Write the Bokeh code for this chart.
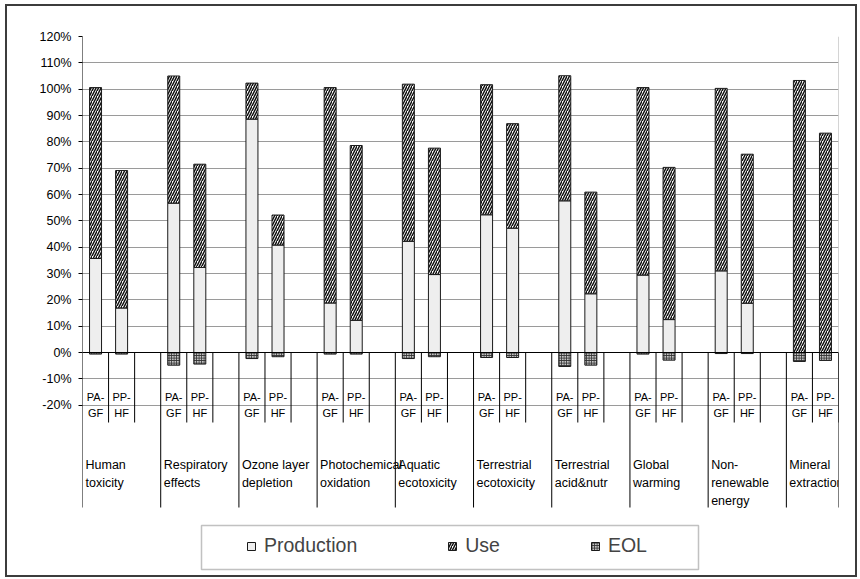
import numpy as np
from bokeh.plotting import figure
from bokeh.models import (Range1d, FixedTicker, PrintfTickFormatter, Legend,
                          LegendItem, ColumnDataSource, BoxAnnotation)
from bokeh.core.properties import value
from bokeh.embed import file_html
from bokeh.resources import INLINE

# ---------------- data ----------------
groups = ["Human toxicity", "Respiratory effects", "Ozone layer depletion",
          "Photochemical oxidation", "Aquatic ecotoxicity", "Terrestrial ecotoxicity",
          "Terrestrial acid&nutr", "Global warming", "Non-renewable energy",
          "Mineral extraction"]
group_labels = ["Human\ntoxicity", "Respiratory\neffects", "Ozone layer\ndepletion",
                "Photochemical\noxidation", "Aquatic\necotoxicity", "Terrestrial\necotoxicity",
                "Terrestrial\nacid&nutr", "Global\nwarming", "Non-\nrenewable\nenergy",
                "Mineral\nextraction"]
series = ["PA-GF", "PP-HF"]
series_labels = ["PA-\nGF", "PP-\nHF"]

production_pagf = [35.7, 56.7, 88.6, 18.8, 42.2, 52.3, 57.6, 29.4, 31.0, 0.0]
use_pagf = [64.9, 48.3, 13.7, 81.8, 59.7, 49.4, 47.5, 71.2, 69.3, 103.3]
eol_pagf = [-0.6, -4.8, -2.3, -0.6, -2.3, -1.9, -5.3, -0.6, -0.4, -3.4]

production_pphf = [16.9, 32.3, 40.8, 12.2, 29.6, 47.2, 22.3, 12.5, 18.7, 0.0]
use_pphf = [52.2, 39.2, 11.4, 66.4, 48.0, 39.7, 38.6, 57.8, 56.6, 83.3]
eol_pphf = [-0.6, -4.4, -1.6, -0.6, -1.6, -1.9, -4.8, -2.9, -0.4, -3.0]

y_ticks = list(range(-20, 121, 10))

# ---------------- layout constants ----------------
FONT = "Liberation Sans"
BORDER = 2
PAGE_X0, PAGE_Y0 = 5 + BORDER, 4 + BORDER   # where the canvas starts on the page
W, H = 852, 573                              # border box of the figure element
ML, MT = 82 - PAGE_X0, 36 - PAGE_Y0
MR = W - (838 - PAGE_X0)
FRAME_W = W - ML - MR
FRAME_H = H - MT
PX_PER_PCT = 316 / 120.0
YMAX = 120
YMIN = YMAX - FRAME_H / PX_PER_PCT
NSLOTS = 3 * len(groups) - 1
SLOT_PX = FRAME_W / NSLOTS


def ypx(page_y):
    # page y pixel -> value (0% line at page y 352)
    return (352 - page_y) / PX_PER_PCT


def xpx(page_x):
    return (page_x - 82) / SLOT_PX


p = figure(width=W, height=H, x_range=Range1d(0, NSLOTS), y_range=Range1d(YMIN, YMAX),
           output_backend="svg", toolbar_location=None, x_axis_location=None,
           min_border_left=ML, min_border_right=MR, min_border_top=MT, min_border_bottom=0,
           outline_line_color=None, background_fill_color="white", border_fill_color="white",
           styles={"margin-left": "5px", "margin-top": "4px",
                   "border": f"{BORDER}px solid #3c3c3c", "box-sizing": "border-box"})

p.yaxis.ticker = FixedTicker(ticks=y_ticks)
p.yaxis.formatter = PrintfTickFormatter(format="%d%%")
p.yaxis.axis_line_color = None
p.yaxis.major_tick_out = 4
p.yaxis.major_tick_in = 0
p.yaxis.minor_tick_line_color = None
p.yaxis.major_tick_line_color = "black"
p.yaxis.major_label_text_font = FONT
p.yaxis.major_label_text_font_size = "12.5px"
p.yaxis.major_label_text_color = "black"
p.yaxis.major_label_standoff = 7
p.ygrid.ticker = FixedTicker(ticks=y_ticks)
p.ygrid.grid_line_color = "#9a9a9a"
p.xgrid.visible = False

# ---------------- bars ----------------
xs, prod, use_top, eol = [], [], [], []
for gi in range(len(groups)):
    for si, (pr, us, eo) in enumerate([(production_pagf[gi], use_pagf[gi], eol_pagf[gi]),
                                       (production_pphf[gi], use_pphf[gi], eol_pphf[gi])]):
        xs.append(3 * gi + si + 0.5)
        prod.append(pr)
        use_top.append(pr + us)
        eol.append(eo)
src = ColumnDataSource(dict(x=xs, prod=prod, use_top=use_top, eol=eol,
                            zero=[0] * len(xs)))
BW = 12 / SLOT_PX

r_prod = p.vbar(x="x", bottom="zero", top="prod", width=BW, source=src,
                fill_color="#eeeeee", line_color="#1a1a1a", line_width=1)
r_use = p.vbar(x="x", bottom="prod", top="use_top", width=BW, source=src,
               fill_color="white", hatch_pattern="right_diagonal_line", hatch_color="#111111",
               hatch_scale=5, hatch_weight=1.5, line_color="#1a1a1a", line_width=1)
r_eol = p.vbar(x="x", bottom="eol", top="zero", width=BW, source=src,
               fill_color="#c4c4c4", hatch_pattern="cross", hatch_color="#333333",
               hatch_scale=2.5, hatch_weight=1, line_color="#1a1a1a", line_width=1)

# ---------------- category axis (Excel style) ----------------
slot_bottom = ypx(422)
group_bottom = ypx(507)
sx0, sy0, sx1, sy1 = [], [], [], []
for gi in range(len(groups)):
    for k in (1, 2):
        sx0.append(3 * gi + k); sx1.append(3 * gi + k)
        sy0.append(0); sy1.append(slot_bottom)
p.segment(x0=sx0, y0=sy0, x1=sx1, y1=sy1, line_color="black", line_width=1)
gx = [3 * gi for gi in range(len(groups))] + [NSLOTS]
p.segment(x0=gx, y0=[0] * len(gx), x1=gx, y1=[group_bottom] * len(gx),
          line_color="black", line_width=1)
# axis line and right border
p.segment(x0=[0], y0=[YMAX], x1=[0], y1=[0], line_color="black", line_width=1)
p.segment(x0=[NSLOTS], y0=[YMAX], x1=[NSLOTS], y1=[0], line_color="#aaaaaa", line_width=1)
p.segment(x0=[0], y0=[0], x1=[NSLOTS], y1=[0], line_color="black", line_width=1)

tx, tt = [], []
for gi in range(len(groups)):
    for si in range(len(series)):
        tx.append(3 * gi + si + 0.5)
        tt.append(series_labels[si])
p.text(x=tx, y=[ypx(404.5)] * len(tx), text=tt, text_align="center",
       text_baseline="middle", text_font=value(FONT), text_font_size="11px",
       text_line_height=1.3, text_color="black")

p.text(x=[3 * gi for gi in range(len(groups))], y=[ypx(457)] * len(groups),
       text=group_labels, x_offset=3, text_align="left", text_baseline="top",
       text_font=value(FONT), text_font_size="12.5px", text_line_height=1.3,
       text_color="black")

# ---------------- legend ----------------
box = BoxAnnotation(left=xpx(201), right=xpx(698), top=ypx(525), bottom=ypx(569),
                    fill_alpha=0, line_color="#333333", line_width=1.5)
p.add_layout(box)

legend_bottom_offset = (6 + H) - 547 - 10   # from the frame bottom to the item row
legend = Legend(items=[LegendItem(label="Production", renderers=[r_prod]),
                       LegendItem(label="Use", renderers=[r_use]),
                       LegendItem(label="EOL", renderers=[r_eol])],
                orientation="horizontal", location=(164, legend_bottom_offset),
                padding=0, margin=0,
                spacing=90, glyph_width=10, glyph_height=10, label_standoff=8,
                label_text_font=FONT, label_text_font_size="19.5px",
                border_line_alpha=0, background_fill_alpha=0)
p.add_layout(legend)

open("out.html", "w").write(file_html(p, INLINE))
